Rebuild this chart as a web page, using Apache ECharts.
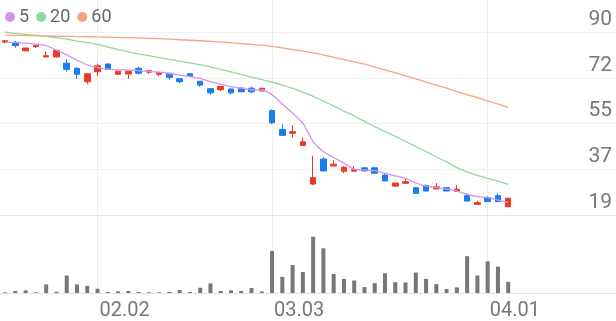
<!DOCTYPE html>
<html><head><meta charset="utf-8">
<script src="https://cdn.jsdelivr.net/npm/echarts@6/dist/echarts.min.js"></script>
<style>html,body{margin:0;padding:0;background:#fff}#c{width:616px;height:321px}</style>
</head><body><div id="c"></div>
<script>
const dates = ['01.20','01.21','01.22','01.23','01.26','01.27','01.28','01.29','01.30',
  '02.02','02.03','02.04','02.05','02.06','02.09','02.10','02.11','02.12','02.13',
  '02.19','02.20','02.23','02.24','02.25','02.26','02.27',
  '03.03','03.04','03.05','03.06','03.09','03.10','03.11','03.12','03.13','03.16','03.17','03.18','03.19','03.20',
  '03.23','03.24','03.25','03.26','03.27','03.30','03.31',
  '04.01','04.02','04.03','04.06','04.07','04.08','04.09','04.10','04.13','04.14','04.15','04.16','04.17'];
const labelDates = ['02.02','03.03','04.01'];
const priceTickLabels = ['19','37','55','72','90'];

const opens  = [86.1,86.0,82.7,84.4,80.3,80.3,77.9,75.9,70.7,74.6,77.6,73.6,73.7,75.9,74.4,73.6,74.0,71.9,73.8,70.9,68.0,67.6,67.9,68.2,68.2,67.1,59.5,52.2,50.7,46.0,31.0,40.7,38.0,36.0,36.0,37.3,37.3,34.5,30.2,31.3,29.6,30.4,29.1,29.6,28.2,26.5,23.1,25.7,26.5,22.2];
const closes = [86.6,84.7,83.8,84.8,80.8,82.9,75.5,73.6,73.8,76.9,75.5,74.8,74.8,74.0,75.0,74.2,72.4,70.7,72.8,69.4,66.4,68.9,66.4,66.8,66.8,68.2,54.8,49.9,51.3,47.4,33.5,36.1,38.7,37.5,36.6,36.1,35.2,32.2,31.4,31.9,27.4,28.3,29.9,28.3,29.0,24.4,23.8,24.2,24.2,25.5];
const lows   = [85.6,83.9,82.7,83.7,80.3,80.2,74.6,71.8,69.7,72.9,75.3,73.3,71.8,73.6,73.8,72.9,71.6,70.1,72.7,68.8,65.7,67.1,65.8,66.7,66.2,67.1,54.2,49.7,49.1,46.0,30.5,36.0,38.0,35.2,36.0,36.0,34.9,32.2,30.2,31.3,27.3,28.2,29.1,28.2,28.2,24.3,23.1,24.1,24.1,22.2];
const highs  = [86.7,86.5,83.8,84.9,82.6,83.0,79.5,76.3,73.9,77.7,77.8,74.8,74.9,76.5,75.0,74.2,74.0,71.9,74.0,70.9,68.0,69.0,67.9,68.7,68.8,68.2,60.0,54.2,53.9,49.1,42.0,41.4,40.3,38.0,38.0,37.4,37.7,35.2,31.4,33.0,29.6,30.9,31.4,29.7,30.6,27.4,24.5,26.3,27.4,25.5];

const ma5  = [86.1,85.9,85.7,85.3,84.7,83.0,81.1,79.1,77.2,76.3,75.6,75.3,75.3,75.0,74.7,74.4,73.9,73.3,72.7,72.0,70.7,69.7,68.8,68.2,67.6,67.5,65.6,62.1,58.5,54.6,47.5,43.6,41.3,39.1,36.8,36.5,36.2,35.2,34.2,33.2,31.5,30.2,29.6,29.0,28.3,27.0,26.1,25.7,24.8,23.9];
const ma20 = [89.9,89.5,89.1,88.7,88.3,87.8,87.2,86.5,85.9,85.2,84.2,83.2,82.3,81.5,80.8,80.1,79.4,78.7,78.0,77.3,76.4,75.5,74.5,73.5,72.5,71.5,70.6,69.4,68.1,66.7,65.0,63.2,61.3,59.3,57.4,55.3,53.3,51.4,49.5,47.5,45.5,43.6,41.5,39.6,37.4,35.7,34.4,33.2,32.1,30.9];
const ma60 = [88.8,88.72,88.64,88.56,88.48,88.4,88.32,88.24,88.16,88.08,88.0,87.9,87.8,87.7,87.55,87.4,87.2,87.0,86.8,86.6,86.4,86.1,85.8,85.5,85.2,84.9,84.4,83.8,83.2,82.6,81.9,81.1,80.2,79.3,78.4,77.5,76.4,75.3,74.2,73.0,71.8,70.6,69.4,68.2,66.9,65.7,64.5,63.3,62.0,60.8];

const volumes = [7,20,27,7,87,13,177,87,73,43,10,17,20,10,7,7,10,30,10,53,97,20,27,20,50,15,427,163,283,213,570,453,193,143,127,60,100,200,110,107,207,143,90,40,57,373,177,320,267,113];

const RED = '#ec3a23', BLUE = '#1b7cf2';
const candles = opens.map((o, i) => [o, closes[i], lows[i], highs[i]]);
const showDate = (idx, val) => labelDates.indexOf(val) >= 0;
const FONT = 'Roboto';

const chart = echarts.init(document.getElementById('c'), null, {renderer: 'canvas'});
chart.setOption({
  animation: false,
  textStyle: {fontFamily: FONT},
  legend: {
    data: ['5', '20', '60'], left: 0, top: 3, icon: 'circle', itemWidth: 10, itemHeight: 10, itemGap: 7,
    textStyle: {fontSize: 18, color: '#666', fontFamily: FONT, padding: [0, 0, 0, -1]}
  },
  grid: [
    {left: 0, right: 0, top: 0, height: 215},
    {left: 0, right: 0, top: 215, height: 79}
  ],
  xAxis: [
    {type: 'category', gridIndex: 0, data: dates, boundaryGap: true,
     axisLine: {show: true, lineStyle: {color: '#e3e3e3'}}, axisTick: {show: false}, axisLabel: {show: false},
     splitLine: {show: true, interval: showDate, alignWithLabel: true, lineStyle: {color: '#eeeeee'}}},
    {type: 'category', gridIndex: 1, data: dates, boundaryGap: true,
     axisLine: {show: true, lineStyle: {color: '#e3e3e3'}},
     axisTick: {show: false, alignWithLabel: true, interval: showDate},
     axisLabel: {interval: showDate, align: 'left', color: '#777', fontSize: 20, margin: 8, padding: [0, 0, 0, 2], fontFamily: FONT},
     splitLine: {show: true, interval: showDate, alignWithLabel: true, lineStyle: {color: '#eeeeee'}}}
  ],
  yAxis: [
    {type: 'value', gridIndex: 0, min: 19, max: 19 + 71 * 215 / 183, show: false},
    {type: 'value', gridIndex: 0, position: 'right', min: 0, max: 215 / 45.75, interval: 1,
     axisLine: {show: false}, axisTick: {show: false},
     axisLabel: {inside: true, margin: 4, verticalAlign: 'bottom', color: '#777', fontSize: 21, fontFamily: FONT,
                 padding: [0, 0, 2, 0],
                 formatter: v => (Number.isInteger(v) && priceTickLabels[v]) ? priceTickLabels[v] : ''},
     splitLine: {show: true, showMaxLine: false, lineStyle: {color: '#f0f0f0'}}},
    {type: 'value', gridIndex: 1, min: 0, max: 790, show: false}
  ],
  series: [
    {type: 'candlestick', name: 'K', xAxisIndex: 0, yAxisIndex: 0, data: candles, barWidth: 6,
     itemStyle: {color: RED, color0: BLUE, borderColor: RED, borderColor0: BLUE, borderWidth: 1}},
    {type: 'line', name: '5', xAxisIndex: 0, yAxisIndex: 0, data: ma5, showSymbol: false, smooth: 0.2,
     lineStyle: {width: 1.3, color: '#d394ec'}, itemStyle: {color: '#d394ec'}},
    {type: 'line', name: '20', xAxisIndex: 0, yAxisIndex: 0, data: ma20, showSymbol: false, smooth: 0.2,
     lineStyle: {width: 1.3, color: '#8fd9a1'}, itemStyle: {color: '#8fd9a1'}},
    {type: 'line', name: '60', xAxisIndex: 0, yAxisIndex: 0, data: ma60, showSymbol: false, smooth: 0.2,
     lineStyle: {width: 1.3, color: '#f7a47e'}, itemStyle: {color: '#f7a47e'}},
    {type: 'bar', name: 'V', xAxisIndex: 1, yAxisIndex: 2, data: volumes, barWidth: 4, itemStyle: {color: '#777'}}
  ]
});
</script>
</body></html>
